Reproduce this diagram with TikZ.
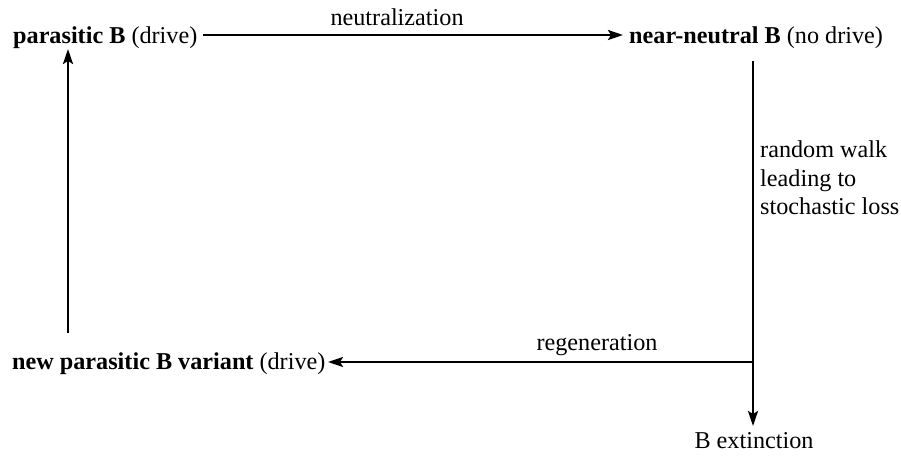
\documentclass[tikz,border=0pt]{standalone}
\usepackage{fontspec}
\setmainfont{Liberation Serif}
\usetikzlibrary{arrows.meta}
\begin{document}
\begin{tikzpicture}[x=1bp,y=-1bp,
  txt/.style={inner sep=0pt, font=\fontsize{24.2bp}{28.5bp}\selectfont},
  state/.style={txt, anchor=base west},
  flow/.style={line width=2.3bp, -{Stealth[length=15bp,width=10bp,inset=3bp]}},
  plain/.style={line width=2.3bp}]
\useasboundingbox (0,0) rectangle (901,461);
% states
\node[state] (pB) at (13,44) {\textbf{parasitic B} (drive)};
\node[state] (nB) at (629,44) {\textbf{near-neutral B} (no drive)};
\node[state] (vB) at (12,370) {\textbf{new parasitic B variant} (drive)};
\node[txt, anchor=base] (ext) at (754,448) {B extinction};
% connector end points
\coordinate (pBout) at (203,35);
\coordinate (nBin) at (623,35);
\coordinate (nBout) at (753,61);
\coordinate (fork) at (753,362);
\coordinate (extin) at (753,426);
\coordinate (vBin) at (328,362);
\coordinate (vBout) at (68,333);
\coordinate (pBin) at (68,49);
% neutralization
\draw[flow] (pBout) -- node[txt, pos=0.462, anchor=base, yshift=9bp] (lneu) {neutralization} (nBin);
% random walk down to the fork, then on to extinction
\draw[plain] (nBout) -- (fork);
\node[txt, anchor=north west, align=left] (lwalk) at (760,141) {random walk\\leading to\\stochastic loss};
\draw[flow] (fork) -- (extin);
% regeneration
\draw[flow] (fork) -- node[txt, pos=0.367, anchor=base, yshift=11bp] (lreg) {regeneration} (vBin);
% new variant back to parasitic B
\draw[flow] (vBout) -- (pBin);
\end{tikzpicture}
\end{document}
